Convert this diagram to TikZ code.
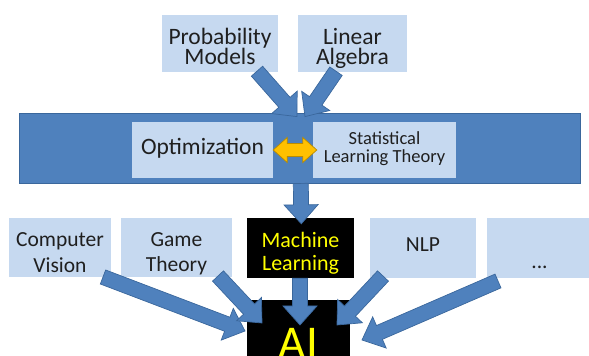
\documentclass[tikz,border=0pt]{standalone}
\usepackage{fontspec}
\setmainfont{Carlito}
\usetikzlibrary{calc}
\definecolor{bandblue}{HTML}{4F81BD}
\definecolor{bandedge}{HTML}{3A679C}
\definecolor{paleblue}{HTML}{C6D9F0}
\definecolor{goldfill}{HTML}{FFC000}
\definecolor{goldedge}{HTML}{B98B00}
\definecolor{mlyellow}{HTML}{FFFF00}
\definecolor{inktext}{HTML}{1F1F1F}

\tikzset{
  topic/.style={fill=paleblue, inner sep=0pt, text=inktext},
  blackbox/.style={fill=black, inner sep=0pt, text=mlyellow},
  fatarr/.style={fill=bandblue, draw=bandedge, line width=0.7pt, line join=miter},
  goldarr/.style={fill=goldfill, draw=goldedge, line width=0.7pt, line join=miter},
}

% centred lines whose last baseline sits #1 above the node centre
\newcommand\lift[2]{\raisebox{#1}[0pt][0pt]{\vbox{\lineskiplimit=-\maxdimen
  \halign{\hfil##\hfil\cr#2\crcr}}}}

% block arrow: shaft half-width, head half-width, head length
\newcommand\arrW{7.5pt}
\newcommand\arrH{17pt}
\newcommand\arrL{19pt}
% \fatarrow{name}{from}{to}
\newcommand\fatarrow[3]{%
  \coordinate (#1-c) at ($(#3)!\arrL!(#2)$);
  \draw[fatarr] ($(#2)!\arrW!90:(#3)$) -- ($(#1-c)!\arrW!90:(#3)$)
    -- ($(#1-c)!\arrH!90:(#3)$) -- (#3) -- ($(#1-c)!\arrH!-90:(#3)$)
    -- ($(#1-c)!\arrW!-90:(#3)$) -- ($(#2)!\arrW!-90:(#3)$) -- cycle;}

\begin{document}
\begin{tikzpicture}[x=1pt,y=1pt]
\useasboundingbox (0,0) rectangle (589,356);
\clip (0,0) rectangle (589,356);

% middle band with the two core topics
\node[fill=bandblue, draw=bandedge, line width=0.8pt, minimum width=561pt,
      minimum height=70pt, inner sep=0pt] (band) at (299.5,208) {};
\node[topic, font=\fontsize{23.5}{20}\selectfont, minimum width=141pt, minimum height=56pt]
      (opt) at (202.5,206) {\lift{-5pt}{Optimization}};
\node[topic, font=\fontsize{18.5}{18}\selectfont, minimum width=143pt, minimum height=56pt]
      (slt) at (384.5,206) {\lift{-13pt}{Statistical\cr Learning Theory}};

% two-way link between them
\coordinate (yl) at (opt.east);
\coordinate (yr) at ([xshift=4pt]slt.west);
\draw[goldarr] (yl) -- ($(yl)+(14,12.5)$) -- ($(yl)+(14,6.5)$) -- ($(yr)+(-14,6.5)$)
  -- ($(yr)+(-14,12.5)$) -- (yr) -- ($(yr)+(-14,-12.5)$) -- ($(yr)+(-14,-6.5)$)
  -- ($(yl)+(14,-6.5)$) -- ($(yl)+(14,-12.5)$) -- cycle;

% foundations
\node[topic, font=\fontsize{23.5}{20.5}\selectfont, minimum width=116pt, minimum height=57pt]
      (pm) at (220,312.5) {\lift{-21.5pt}{Probability\cr Models}};
\node[topic, font=\fontsize{23.5}{20.5}\selectfont, minimum width=109pt, minimum height=57pt]
      (la) at (352.5,312.5) {\lift{-21.5pt}{Linear\cr Algebra}};

% application row
\node[topic, font=\fontsize{21.5}{26}\selectfont, minimum width=102pt, minimum height=59pt]
      (cv) at (60,108.5) {\lift{-25.5pt}{Computer\cr Vision}};
\node[topic, font=\fontsize{21.5}{25}\selectfont, minimum width=111pt, minimum height=59pt]
      (gt) at (176.5,108.5) {\lift{-24.5pt}{Game\cr Theory}};
\node[blackbox, font=\fontsize{22}{23.4}\selectfont, minimum width=107pt, minimum height=60pt]
      (ml) at (300.5,108) {\lift{-23pt}{Machine\cr Learning}};
\node[topic, font=\fontsize{21.5}{25}\selectfont, minimum width=106pt, minimum height=60pt]
      (nlp) at (423,108) {\lift{-3.7pt}{NLP}};
\node[topic, font=\fontsize{21.5}{25}\selectfont, minimum width=105pt, minimum height=60pt]
      (etc) at (539.5,108) {\lift{-21pt}{...}};
\node[blackbox, font=\fontsize{47}{47}\selectfont, minimum width=103pt, minimum height=88pt]
      (ai) at (298.5,12) {\lift{-15pt}{AI}};

% arrow ends
\coordinate (pm-t) at ([xshift=37pt,yshift=1pt]pm.south);
\coordinate (la-t) at ([xshift=-16.5pt,yshift=1pt]la.south);
\coordinate (band-in1) at ([xshift=-2.5pt,yshift=-4pt]band.north);
\coordinate (band-in2) at ([xshift=5.5pt,yshift=-4pt]band.north);
\coordinate (band-out) at ([xshift=1.3pt]band.south);
\coordinate (ml-in) at ([xshift=0.8pt,yshift=-6pt]ml.north);
\coordinate (ml-out) at ([xshift=-0.5pt]ml.south);
\coordinate (cv-t) at (103,79);
\coordinate (gt-t) at (218,80);
\coordinate (nlp-t) at (383,80);
\coordinate (etc-t) at (498,75);
\coordinate (ai-a) at (245,25);
\coordinate (ai-b) at (262,33);
\coordinate (ai-c) at (300,31);
\coordinate (ai-d) at (337,31);
\coordinate (ai-e) at (362,16);

\fatarrow{a1}{pm-t}{band-in1}
\fatarrow{a2}{la-t}{band-in2}
\fatarrow{a3}{band-out}{ml-in}
\fatarrow{a4}{cv-t}{ai-a}
\fatarrow{a5}{gt-t}{ai-b}
\fatarrow{a6}{ml-out}{ai-c}
\fatarrow{a7}{nlp-t}{ai-d}
\fatarrow{a8}{etc-t}{ai-e}
\end{tikzpicture}
\end{document}
